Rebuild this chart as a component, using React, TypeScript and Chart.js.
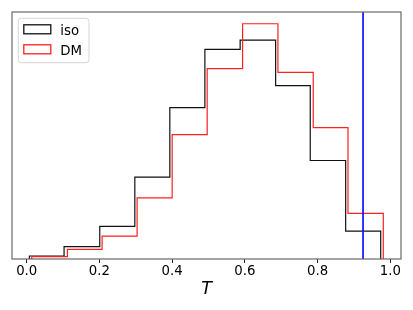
import React, { useEffect, useRef } from "react";
import { Chart, registerables } from "chart.js";

Chart.register(...registerables);

// Histogram bin edges and heights (density)
const isoEdges = [0.0074, 0.1027, 0.2009, 0.2973, 0.3936, 0.49, 0.587, 0.6846, 0.7798, 0.8772, 0.9736];
const isoHeights = [0.03, 0.123, 0.327, 0.82, 1.517, 2.1, 2.193, 1.737, 0.987, 0.28];
const dmEdges = [0.0138, 0.112, 0.2073, 0.3036, 0.4, 0.4963, 0.5937, 0.6909, 0.788, 0.8836, 0.9807];
const dmHeights = [0.023, 0.097, 0.23, 0.613, 1.247, 1.907, 2.357, 1.87, 1.317, 0.457];
const thresholdT = 0.925;
const xTickValues = [0, 0.2, 0.4, 0.6, 0.8, 1.0];
const seriesLabels = ["iso", "DM"];
const xRange = [-0.0405, 1.0294];

function stepPoints(edges: number[], heights: number[]) {
  const pts: { x: number; y: number }[] = [{ x: edges[0], y: 0 }];
  heights.forEach((h, i) => {
    pts.push({ x: edges[i], y: h });
    pts.push({ x: edges[i + 1], y: h });
  });
  pts.push({ x: edges[edges.length - 1], y: 0 });
  return pts;
}

const FONT = "DejaVu Sans";

const framePlugin = {
  id: "frameAndLegend",
  afterDraw(chart: any) {
    const { ctx, chartArea } = chart;
    const { left, top, right, bottom } = chartArea;
    ctx.save();
    // spines
    ctx.strokeStyle = "#6a6a6a";
    ctx.lineWidth = 1.2;
    ctx.strokeRect(left, top, right - left, bottom - top);

    // legend inside the axes (upper left)
    const bx = left + 6.3;
    const by = top + 6.3;
    const bw = 70.7;
    const bh = 44.4;
    const r = 3;
    ctx.beginPath();
    ctx.moveTo(bx + r, by);
    ctx.lineTo(bx + bw - r, by);
    ctx.quadraticCurveTo(bx + bw, by, bx + bw, by + r);
    ctx.lineTo(bx + bw, by + bh - r);
    ctx.quadraticCurveTo(bx + bw, by + bh, bx + bw - r, by + bh);
    ctx.lineTo(bx + r, by + bh);
    ctx.quadraticCurveTo(bx, by + bh, bx, by + bh - r);
    ctx.lineTo(bx, by + r);
    ctx.quadraticCurveTo(bx, by, bx + r, by);
    ctx.closePath();
    ctx.fillStyle = "rgba(255,255,255,0.8)";
    ctx.fill();
    ctx.strokeStyle = "#d6d6d6";
    ctx.lineWidth = 1;
    ctx.stroke();

    const ds = chart.data.datasets.filter((d: any) => seriesLabels.includes(d.label));
    ds.forEach((d: any, i: number) => {
      const ry = by + 6.5 + i * 20;
      ctx.strokeStyle = d.borderColor;
      ctx.lineWidth = 1.3;
      ctx.strokeRect(bx + 5.5, ry, 27, 9);
      ctx.fillStyle = "#000";
      ctx.font = `13.3px "${FONT}"`;
      ctx.textBaseline = "alphabetic";
      ctx.textAlign = "left";
      ctx.fillText(d.label, bx + 42, ry + 9.7);
    });
    ctx.restore();
  },
};

export default function App() {
  const ref = useRef<HTMLCanvasElement | null>(null);

  useEffect(() => {
    if (!ref.current) return;
    const yMax = Math.max(...isoHeights, ...dmHeights) * 1.05;
    const chart = new Chart(ref.current, {
      type: "line",
      data: {
        datasets: [
          {
            label: seriesLabels[0],
            data: stepPoints(isoEdges, isoHeights),
            borderColor: "#111111",
            borderWidth: 1.2,
            pointRadius: 0,
            fill: false,
            tension: 0,
            order: 2,
          },
          {
            label: seriesLabels[1],
            data: stepPoints(dmEdges, dmHeights),
            borderColor: "#ff2020",
            borderWidth: 1.2,
            pointRadius: 0,
            fill: false,
            tension: 0,
            order: 1,
          },
          {
            label: "threshold",
            data: [
              { x: thresholdT, y: 0 },
              { x: thresholdT, y: yMax },
            ],
            borderColor: "#1010ff",
            borderWidth: 1.7,
            pointRadius: 0,
            fill: false,
            order: 0,
          },
        ],
      },
      options: {
        animation: false,
        responsive: false,
        layout: { padding: { left: 12, right: 12, top: 12, bottom: 0 } },
        plugins: {
          legend: { display: false },
          tooltip: { enabled: false },
        },
        scales: {
          x: {
            type: "linear",
            min: xRange[0],
            max: xRange[1],
            afterBuildTicks: (scale: any) => {
              scale.ticks = xTickValues.map((v) => ({ value: v }));
            },
            afterFit: (scale: any) => {
              scale.height = 51;
            },
            grid: {
              display: true,
              drawOnChartArea: false,
              drawTicks: true,
              tickLength: 4,
              color: "#222",
              lineWidth: 1,
            },
            border: { display: false },
            ticks: {
              color: "#000",
              padding: 1,
              maxRotation: 0,
              autoSkip: false,
              font: { family: FONT, size: 13.3 },
              callback: (v: any) => Number(v).toFixed(1),
            },
            title: {
              display: true,
              text: "T",
              color: "#000",
              font: { family: FONT, size: 17.5, style: "italic" },
              padding: { top: 0, bottom: 10 },
            },
          },
          y: {
            type: "linear",
            min: 0,
            max: yMax,
            display: false,
          },
        },
      },
      plugins: [framePlugin],
    });
    return () => chart.destroy();
  }, []);

  return (
    <div style={{ position: "absolute", left: 0, top: 0, width: 413, height: 310, background: "#fff" }}>
      <canvas ref={ref} width={413} height={310} style={{ width: 413, height: 310 }} />
    </div>
  );
}
